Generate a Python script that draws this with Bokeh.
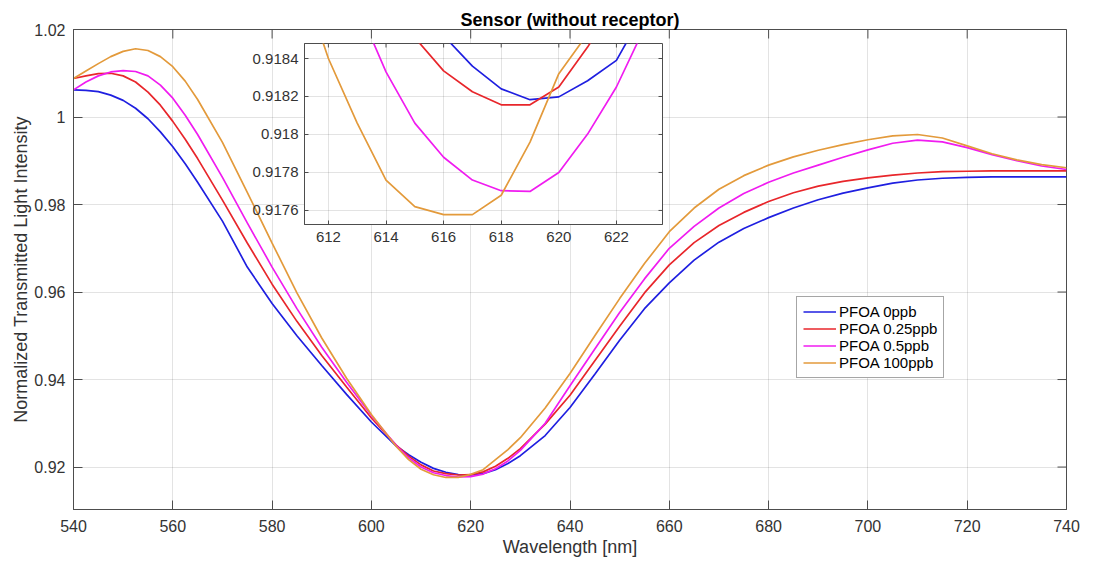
import math
from bokeh.plotting import figure
from bokeh.models import Range1d, FixedTicker, Legend, LegendItem
from bokeh.layouts import column
from bokeh.embed import file_html
from bokeh.resources import INLINE

# ---------------- data ----------------
wavelength = [540, 542.5, 545, 547.5, 550, 552.5, 555, 557.5, 560, 562.5, 565, 570, 575,
              580, 585, 590, 595, 600, 605, 607.5, 610, 612.5, 615, 617.5, 620, 622.5,
              625, 627.5, 630, 635, 640, 645, 650, 655, 660, 665, 670, 675, 680, 685,
              690, 695, 700, 705, 710, 715, 720, 725, 730, 735, 740]

pfoa_0ppb = [1.0062, 1.0061, 1.0058, 1.0050, 1.0038, 1.0020, 0.9996, 0.9966, 0.9932,
             0.9893, 0.9851, 0.9762, 0.9657, 0.9574, 0.9500, 0.9432, 0.9366, 0.9303,
             0.9248, 0.9228, 0.9211, 0.9197, 0.9188, 0.9183, 0.9182, 0.9185, 0.9194,
             0.9208, 0.9226, 0.9272, 0.9336, 0.9412, 0.9490, 0.9562, 0.9621, 0.9673,
             0.9714, 0.9745, 0.9770, 0.9792, 0.9811, 0.9826, 0.9838, 0.9849, 0.9856,
             0.9860, 0.9862, 0.9863, 0.9863, 0.9863, 0.9863]

pfoa_025ppb = [1.0088, 1.0094, 1.0099, 1.0100, 1.0094, 1.0080, 1.0057, 1.0027, 0.9990,
               0.9949, 0.9905, 0.9810, 0.9712, 0.9618, 0.9533, 0.9455, 0.9383, 0.9312,
               0.9250, 0.9225, 0.9205, 0.9191, 0.91850, 0.91819, 0.91825, 0.9189, 0.9202,
               0.9220, 0.9242, 0.9298, 0.9364, 0.9443, 0.9522, 0.9598, 0.9662, 0.9713,
               0.9752, 0.9782, 0.9807, 0.9827, 0.9842, 0.9853, 0.9861, 0.9867, 0.9872,
               0.9875, 0.9876, 0.9877, 0.9877, 0.9877, 0.9877]

pfoa_05ppb = [1.0062, 1.0080, 1.0094, 1.0103, 1.0106, 1.0104, 1.0094, 1.0073, 1.0043,
              1.0004, 0.9960, 0.9862, 0.9758, 0.9657, 0.9562, 0.9474, 0.9394, 0.9318,
              0.9249, 0.9221, 0.9200, 0.9187, 0.91806, 0.91773, 0.91780, 0.9184, 0.9196,
              0.9214, 0.9238, 0.9300, 0.9386, 0.9470, 0.9553, 0.9630, 0.9700, 0.9750,
              0.9792, 0.9825, 0.9851, 0.9872, 0.9890, 0.9908, 0.9925, 0.9940, 0.9947,
              0.9943, 0.9930, 0.9914, 0.9900, 0.9888, 0.9880]

pfoa_100ppb = [1.0088, 1.0105, 1.0122, 1.0138, 1.0150, 1.0156, 1.0152, 1.0138, 1.0115,
               1.0082, 1.0040, 0.9942, 0.9828, 0.9712, 0.9598, 0.9495, 0.9403, 0.9320,
               0.9247, 0.9217, 0.9195, 0.91825, 0.91762, 0.91762, 0.91832, 0.9194, 0.9217,
               0.9240, 0.9267, 0.9335, 0.9414, 0.9500, 0.9585, 0.9665, 0.9738, 0.9792,
               0.9835, 0.9866, 0.9890, 0.9909, 0.9924, 0.9937, 0.9948, 0.9957, 0.9960,
               0.9952, 0.9934, 0.9916, 0.9902, 0.9891, 0.9884]

# zoomed inset (1 nm sampling around the dip)
inset_wavelength = [611, 612, 613, 614, 615, 616, 617, 618, 619, 620, 621, 622, 623, 624]
inset_0ppb = [0.91960, 0.91935, 0.91912, 0.91890, 0.91870, 0.91852, 0.91836, 0.91824,
              0.918183, 0.918198, 0.918283, 0.91839, 0.91866, 0.91900]
inset_025ppb = [0.91970, 0.91930, 0.91890, 0.91868, 0.91851, 0.918335, 0.918225, 0.918156,
                0.918156, 0.91825, 0.91846, 0.91870, 0.91900, 0.91940]
inset_05ppb = [0.91960, 0.91910, 0.91868, 0.91833, 0.91806, 0.91788, 0.91776, 0.917704,
               0.917700, 0.91780, 0.918002, 0.91825, 0.91857, 0.91900]
inset_100ppb = [0.91885, 0.91840, 0.91806, 0.91776, 0.91762, 0.917578, 0.917578, 0.91768,
                0.91796, 0.91832, 0.91853, 0.91900, 0.91950, 0.91990]

series_labels = ["PFOA 0ppb", "PFOA 0.25ppb", "PFOA 0.5ppb", "PFOA 100ppb"]
series_colors = ["#1f1fe0", "#e8262b", "#f01cf0", "#e39a3b"]

x_ticks = [540, 560, 580, 600, 620, 640, 660, 680, 700, 720, 740]
y_ticks = [0.92, 0.94, 0.96, 0.98, 1.0, 1.02]
y_tick_labels = ["0.92", "0.94", "0.96", "0.98", "1", "1.02"]

inset_x_ticks = [612, 614, 616, 618, 620, 622]
inset_y_ticks = [0.9176, 0.9178, 0.918, 0.9182, 0.9184]
inset_y_tick_labels = ["0.9176", "0.9178", "0.918", "0.9182", "0.9184"]

FONT = "Liberation Sans"
TXT = "#333333"
AXC = "#4d4d4d"
BORDER_L, BORDER_R = 73, 28

# ---------------- main figure ----------------
x0, x1 = 540, 740
y0, y1 = 0.9103, 1.02
p = figure(frame_width=993, frame_height=480, x_range=Range1d(x0, x1), y_range=Range1d(y0, y1),
           output_backend="svg", toolbar_location=None,
           min_border_left=BORDER_L, min_border_right=BORDER_R, min_border_top=29,
           min_border_bottom=57, title="Sensor (without receptor)")
p.title.align = "center"
p.title.text_font = FONT
p.title.text_font_size = "18px"
p.title.text_font_style = "bold"
p.title.text_color = "#000000"
p.title.standoff = 0
p.background_fill_color = "white"
p.border_fill_color = "white"
p.outline_line_color = AXC
p.outline_line_width = 1


def style_axis(ax, tick_len, font_size):
    ax.major_tick_in = tick_len
    ax.major_tick_out = 0
    ax.minor_tick_in = 0
    ax.minor_tick_out = 0
    ax.axis_line_color = AXC
    ax.major_tick_line_color = AXC
    ax.major_label_text_font = FONT
    ax.major_label_text_color = TXT
    ax.major_label_text_font_size = font_size


p.xaxis.ticker = FixedTicker(ticks=x_ticks)
p.yaxis.ticker = FixedTicker(ticks=y_ticks)
p.yaxis.major_label_overrides = dict(zip(y_ticks, y_tick_labels))
style_axis(p.xaxis[0], 9, "16px")
style_axis(p.yaxis[0], 9, "16px")
p.xaxis.major_label_standoff = 10
p.yaxis.major_label_standoff = 8
p.xaxis.axis_label = "Wavelength [nm]"
p.yaxis.axis_label = "Normalized Transmitted Light Intensity"
for ax in (p.xaxis[0], p.yaxis[0]):
    ax.axis_label_text_font = FONT
    ax.axis_label_text_font_size = "18px"
    ax.axis_label_text_font_style = "normal"
    ax.axis_label_text_color = TXT
p.xaxis.axis_label_standoff = 2
p.yaxis.axis_label_standoff = 0

p.grid.grid_line_color = "#262626"
p.grid.grid_line_alpha = 0.13

# box ticks on the top and right edges (inward)
p.scatter(x=x_ticks, y=[y1] * len(x_ticks), marker="dash", angle=math.pi / 2, size=18,
          line_color=AXC, line_width=1)
p.scatter(x=[x1] * len(y_ticks), y=y_ticks, marker="dash", size=18,
          line_color=AXC, line_width=1)

main_series = [pfoa_0ppb, pfoa_025ppb, pfoa_05ppb, pfoa_100ppb]
items = []
for lbl, col, ys in zip(series_labels, series_colors, main_series):
    r = p.line(wavelength, ys, line_color=col, line_width=1.7)
    items.append(LegendItem(label=lbl, renderers=[r]))

legend = Legend(items=items, location=(723, 131))
legend.label_text_font = FONT
legend.label_text_font_size = "15px"
legend.label_text_color = "#000000"
legend.glyph_width = 33
legend.glyph_height = 17
legend.label_height = 17
legend.label_standoff = 3
legend.spacing = 0
legend.padding = 6
legend.margin = 0
legend.border_line_color = AXC
legend.border_line_width = 1
legend.background_fill_color = "white"
legend.background_fill_alpha = 1
p.add_layout(legend, "center")

# ---------------- inset figure ----------------
ix0, ix1 = 611.17, 623.6
iy0, iy1 = 0.917526, 0.918479
inset = figure(frame_width=358, frame_height=181, x_range=Range1d(ix0, ix1),
               y_range=Range1d(iy0, iy1),
               output_backend="svg", toolbar_location=None,
               min_border_left=BORDER_L, min_border_right=BORDER_R, min_border_top=13,
               min_border_bottom=36)
inset.background_fill_color = "white"
inset.border_fill_alpha = 0
inset.outline_line_color = AXC
inset.xaxis.ticker = FixedTicker(ticks=inset_x_ticks)
inset.yaxis.ticker = FixedTicker(ticks=inset_y_ticks)
inset.yaxis.major_label_overrides = dict(zip(inset_y_ticks, inset_y_tick_labels))
style_axis(inset.xaxis[0], 4, "15px")
style_axis(inset.yaxis[0], 4, "15px")
inset.xaxis.major_label_standoff = 7
inset.yaxis.major_label_standoff = 6
inset.grid.grid_line_color = "#262626"
inset.grid.grid_line_alpha = 0.13

inset.scatter(x=inset_x_ticks, y=[iy1] * len(inset_x_ticks), marker="dash", angle=math.pi / 2,
              size=8, line_color=AXC, line_width=1)
inset.scatter(x=[ix1] * len(inset_y_ticks), y=inset_y_ticks, marker="dash", size=8,
              line_color=AXC, line_width=1)

inset_series = [inset_0ppb, inset_025ppb, inset_05ppb, inset_100ppb]
for col, ys in zip(series_colors, inset_series):
    inset.line(inset_wavelength, ys, line_color=col, line_width=1.7)

# inset frame starts at x=304, y=43 on the page
inset.styles = {"position": "absolute", "left": f"{304 - BORDER_L}px", "top": "30px"}

layout = column(p, inset)
open("out.html", "w").write(file_html(layout, INLINE))
